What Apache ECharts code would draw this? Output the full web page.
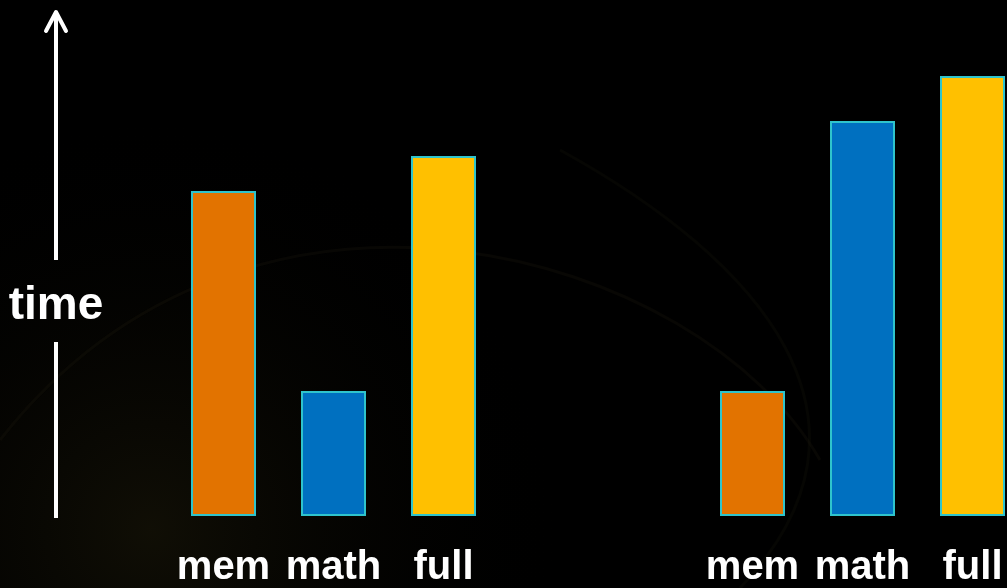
<!DOCTYPE html>
<html>
<head>
<meta charset="utf-8">
<style>
  html, body { margin: 0; padding: 0; background: #000; }
  #chart { width: 1007px; height: 588px; }
</style>
<script src="https://cdn.jsdelivr.net/npm/echarts@6/dist/echarts.min.js"></script>
</head>
<body>
<div id="chart"></div>
<script>
// Workload categories shown under each group
const categories = ['mem', 'math', 'full'];
// Run time of each workload (relative units), first and second configuration
const timesA = [65, 25, 72];
const timesB = [25, 79, 88];
// One fill per workload
const barColors = ['#E27300', '#0070C0', '#FFC000'];
const axisTitle = 'time';

const chart = echarts.init(document.getElementById('chart'), null, { renderer: 'canvas' });

function toItems(values) {
  return values.map((v, i) => ({ value: v, itemStyle: { color: barColors[i] } }));
}

const labelStyle = {
  color: '#FFFFFF',
  fontSize: 40,
  fontWeight: 'bold',
  fontFamily: 'Liberation Sans, Arial, sans-serif',
  margin: 32,
  interval: 0,
  hideOverlap: false
};

function xAxisFor(gridIndex) {
  return {
    type: 'category',
    gridIndex: gridIndex,
    data: categories,
    axisLine: { show: false },
    axisTick: { show: false },
    axisLabel: labelStyle
  };
}

function yAxisFor(gridIndex) {
  return {
    type: 'value',
    gridIndex: gridIndex,
    min: 0,
    max: 100,
    show: false,
    splitLine: { show: false }
  };
}

function barSeries(gridIndex, values) {
  return {
    type: 'bar',
    xAxisIndex: gridIndex,
    yAxisIndex: gridIndex,
    barWidth: 65,
    data: toItems(values),
    itemStyle: { borderColor: '#2FC4CC', borderWidth: 2 },
    emphasis: { disabled: true },
    animation: false
  };
}

const gridBase = { top: 16, width: 330, height: 500, containLabel: false, outerBoundsMode: 'none' };

const option = {
  backgroundColor: '#000000',
  animation: false,
  grid: [
    Object.assign({ left: 168.5 }, gridBase),
    Object.assign({ left: 697.5 }, gridBase)
  ],
  xAxis: [xAxisFor(0), xAxisFor(1)],
  yAxis: [yAxisFor(0), yAxisFor(1)],
  series: [barSeries(0, timesA), barSeries(1, timesB)],
  graphic: [
    // faint backdrop shading
    {
      type: 'rect', z: -10, silent: true,
      shape: { x: 0, y: 0, width: 1007, height: 588 },
      style: {
        fill: new echarts.graphic.RadialGradient(0.15, 0.9, 0.7, [
          { offset: 0, color: 'rgba(18,16,6,0.9)' },
          { offset: 1, color: 'rgba(0,0,0,0)' }
        ])
      }
    },
    {
      type: 'bezierCurve', z: -9, silent: true,
      shape: { x1: 0, y1: 440, x2: 820, y2: 460, cpx1: 250, cpy1: 120, cpx2: 700, cpy2: 250 },
      style: { stroke: 'rgba(30,28,16,0.25)', lineWidth: 3, fill: null }
    },
    {
      type: 'bezierCurve', z: -9, silent: true,
      shape: { x1: 740, y1: 588, x2: 560, y2: 150, cpx1: 900, cpy1: 420, cpx2: 760, cpy2: 260 },
      style: { stroke: 'rgba(30,28,16,0.2)', lineWidth: 3, fill: null }
    },
    // vertical arrow indicating increasing time
    {
      type: 'line', silent: true,
      shape: { x1: 56, y1: 12, x2: 56, y2: 260 },
      style: { stroke: '#FFFFFF', lineWidth: 4 }
    },
    {
      type: 'line', silent: true,
      shape: { x1: 56, y1: 342, x2: 56, y2: 518 },
      style: { stroke: '#FFFFFF', lineWidth: 4 }
    },
    {
      type: 'polyline', silent: true,
      shape: { points: [[46, 31], [56, 12], [66, 31]] },
      style: { stroke: '#FFFFFF', lineWidth: 4, fill: null, lineJoin: 'round', lineCap: 'round' }
    },
    {
      type: 'text', silent: true,
      x: 56, y: 306,
      style: {
        text: axisTitle,
        fill: '#FFFFFF',
        font: 'bold 46px "Liberation Sans", Arial, sans-serif',
        align: 'center',
        verticalAlign: 'middle'
      }
    }
  ]
};

chart.setOption(option);
</script>
</body>
</html>
